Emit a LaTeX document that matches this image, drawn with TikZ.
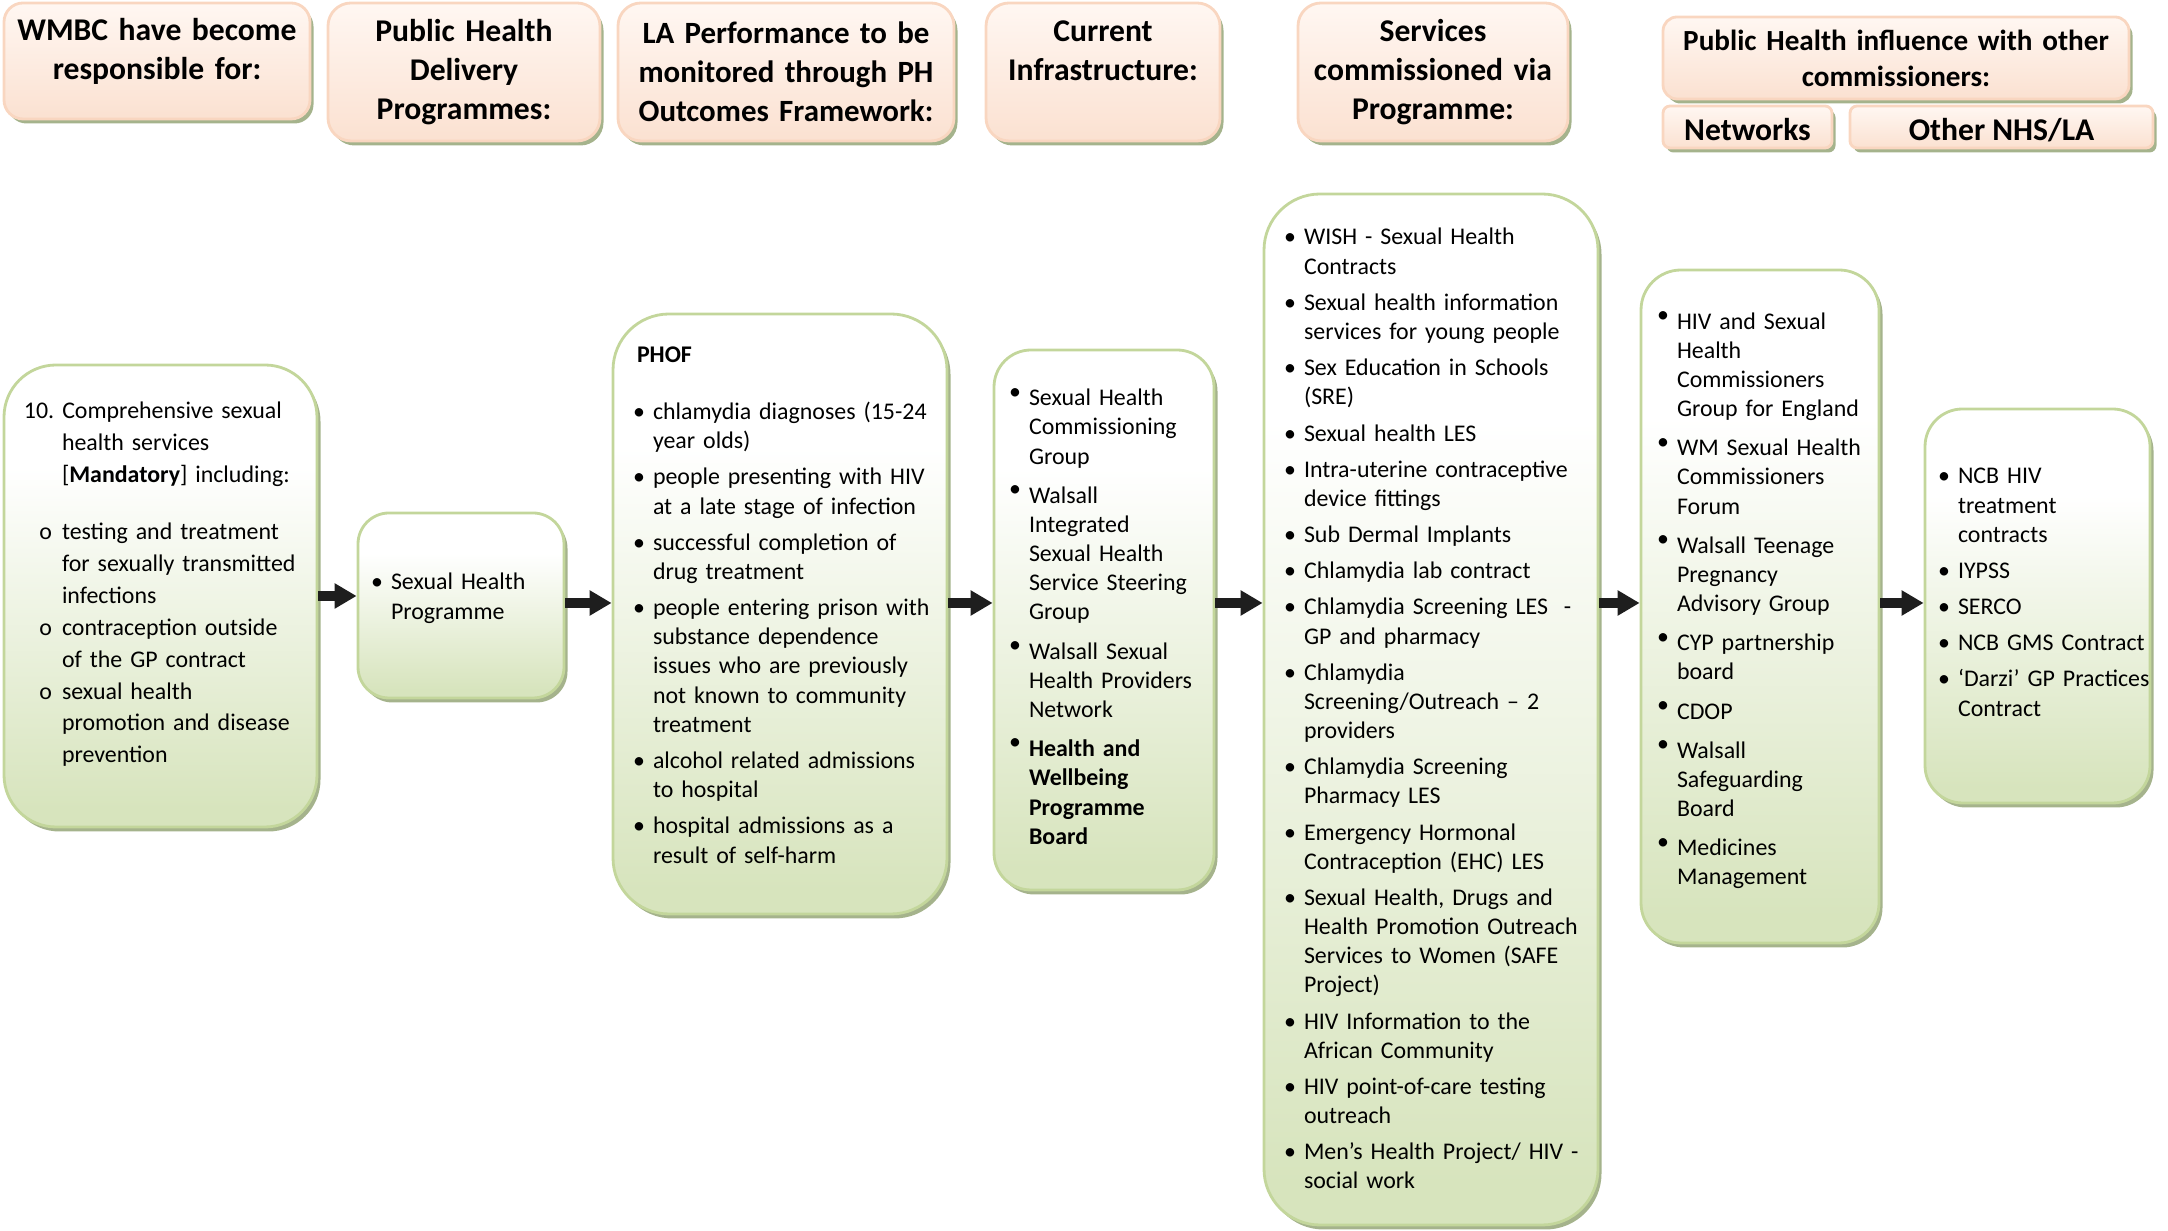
\documentclass[tikz,border=0pt]{standalone}
\usepackage{fontspec}
\setmainfont{Carlito}
\usepackage{enumitem}
\usetikzlibrary{arrows.meta}
\usetikzlibrary{shadows}

\definecolor{stageline}{HTML}{C3D69B}
\definecolor{stagefill}{HTML}{D7E4BD}
\definecolor{headline}{HTML}{F9D6C0}
\definecolor{headtop}{HTML}{FFF7F2}
\definecolor{headbot}{HTML}{FBE1D1}
\definecolor{shade}{HTML}{A5B38C}
\definecolor{arrowc}{HTML}{1E1E1E}

\pgfdeclareverticalshading{stagefade}{100bp}{color(0bp)=(stagefill); color(27bp)=(stagefill); color(64bp)=(white); color(100bp)=(white)}

\setlist[itemize]{label=\textbullet, leftmargin=0.16cm, labelsep=0.08cm, rightmargin=-0.3cm, topsep=0pt, partopsep=0pt, parsep=0pt, itemsep=0.07cm}

\newcommand{\padbelow}[1]{\par\vspace{#1}\hrule height 0pt}
\newcommand{\upbullet}{\raisebox{0.28em}{\textbullet}}

\begin{document}
\begin{tikzpicture}[
    stage/.style={
        rectangle,
        draw=stageline,
        line width=0.8pt,
        shade,
        shading=stagefade,
        drop shadow={shadow xshift=0.035cm, shadow yshift=-0.045cm, fill=shade, opacity=1},
        font=\fontsize{6.8}{8.3}\selectfont,
        align=left,
        inner sep=0pt,
        },
    heading/.style={
        rectangle,
        draw=headline,
        line width=0.8pt,
        top color=headtop,
        bottom color=headbot,
        drop shadow={shadow xshift=0.035cm, shadow yshift=-0.045cm, fill=shade, opacity=1},
        font=\fontsize{9}{11.1}\selectfont\bfseries,
        align=center,
        inner sep=0pt,
        },
    flow/.style={
        draw=arrowc,
        line width=2.6pt,
        -{Triangle[length=0.22cm, width=0.24cm]},
        },
    ]

    \useasboundingbox (0,0) rectangle (21.68,-12.31);

    % column headings
    \node [heading, minimum width=3.06cm, minimum height=1.16cm, rounded corners=0.19cm, text width=2.96cm] (wmbc) at (1.57,-0.61) {WMBC have become\\responsible for:\padbelow{0.19cm}};
    \node [heading, minimum width=2.72cm, minimum height=1.38cm, rounded corners=0.23cm, text width=2.62cm] (phprog) at (4.64,-0.72) {Public Health\\Delivery\\Programmes:};
    \node [heading, minimum width=3.36cm, minimum height=1.38cm, rounded corners=0.23cm, text width=3.26cm, font=\fontsize{8.8}{11.1}\selectfont\bfseries] (laperf) at (7.86,-0.72) {LA Performance to be\\monitored through PH\\Outcomes Framework:};
    \node [heading, minimum width=2.34cm, minimum height=1.38cm, rounded corners=0.23cm, text width=2.24cm] (infra) at (11.03,-0.72) {Current\\Infrastructure:\padbelow{0.42cm}};
    \node [heading, minimum width=2.70cm, minimum height=1.38cm, rounded corners=0.23cm, text width=2.60cm] (services) at (14.33,-0.72) {Services\\commissioned via\\Programme:};
    \node [heading, minimum width=4.66cm, minimum height=0.82cm, rounded corners=0.14cm, text width=4.56cm, font=\fontsize{8.3}{10.2}\selectfont\bfseries] (influence) at (18.96,-0.58) {Public Health influence with other\\commissioners:};
    \node [heading, minimum width=1.69cm, minimum height=0.42cm, rounded corners=0.07cm, text height=0.28cm, text depth=0pt] (networks) at (17.475,-1.27) {Networks};
    \node [heading, minimum width=3.03cm, minimum height=0.42cm, rounded corners=0.07cm, text height=0.28cm, text depth=0pt] (othernhs) at (20.015,-1.27) {Other NHS/LA};

    % flow boxes
    \node [stage, minimum width=3.13cm, minimum height=4.62cm, rounded corners=0.52cm, text width=2.73cm, font=\fontsize{6.8}{9.1}\selectfont] (duty) at (1.605,-5.96) {
        \begin{itemize}[label=10., leftmargin=0.38cm, labelwidth=0.30cm, labelsep=0.08cm, align=left, itemsep=0pt]
        \item Comprehensive sexual\newline health services\newline [\textbf{Mandatory}] including:
            \begin{itemize}[label=o, leftmargin=0pt, labelsep=0.1cm, topsep=0.25cm, itemsep=0pt]
            \item testing and treatment\newline for sexually transmitted\newline infections
            \item contraception outside\newline of the GP contract
            \item sexual health\newline promotion and disease\newline prevention
            \end{itemize}
        \end{itemize}\padbelow{0.14cm}};

    \node [stage, minimum width=2.06cm, minimum height=1.85cm, rounded corners=0.31cm, text width=1.72cm] (prog) at (4.61,-6.055) {
        \begin{itemize}
        \item Sexual Health\newline Programme
        \end{itemize}\padbelow{0.27cm}};

    \node [stage, minimum width=3.34cm, minimum height=6.00cm, rounded corners=0.56cm, text width=2.86cm] (phof) at (7.80,-6.14) {
        \textbf{PHOF}\par\vspace{0.28cm}
        \begin{itemize}
        \item chlamydia diagnoses (15-24\newline year olds)
        \item people presenting with HIV\newline at a late stage of infection
        \item successful completion of\newline drug treatment
        \item people entering prison with\newline substance dependence\newline issues who are previously\newline not known to community\newline treatment
        \item alcohol related admissions\newline to hospital
        \item hospital admissions as a\newline result of self-harm
        \end{itemize}\padbelow{0.18cm}};

    \node [stage, minimum width=2.20cm, minimum height=5.40cm, rounded corners=0.37cm, text width=1.82cm] (groups) at (11.04,-6.20) {
        \begin{itemize}[label=\upbullet, itemsep=0.1cm]
        \item Sexual Health\newline Commissioning\newline Group
        \item Walsall\newline Integrated\newline Sexual Health\newline Service Steering\newline Group
        \item Walsall Sexual\newline Health Providers\newline Network
        \item \textbf{Health and\newline Wellbeing\newline Programme\newline Board}
        \end{itemize}\padbelow{0.19cm}};

    \node [stage, minimum width=3.34cm, minimum height=10.31cm, rounded corners=0.56cm, text width=2.86cm] (contracts) at (14.31,-7.095) {
        \begin{itemize}[itemsep=0.07cm]
        \item WISH - Sexual Health\newline Contracts
        \item Sexual health information\newline services for young people
        \item Sex Education in Schools\newline (SRE)
        \item Sexual health LES
        \item Intra-uterine contraceptive\newline device fittings
        \item Sub Dermal Implants
        \item Chlamydia lab contract
        \item Chlamydia Screening LES~ -\newline GP and pharmacy
        \item Chlamydia\newline Screening/Outreach – 2\newline providers
        \item Chlamydia Screening\newline Pharmacy LES
        \item Emergency Hormonal\newline Contraception (EHC) LES
        \item Sexual Health, Drugs and\newline Health Promotion Outreach\newline Services to Women (SAFE\newline Project)
        \item HIV Information to the\newline African Community
        \item HIV point-of-care testing\newline outreach
        \item Men’s Health Project/ HIV -\newline social work
        \end{itemize}\padbelow{0.14cm}};

    \node [stage, minimum width=2.38cm, minimum height=6.73cm, rounded corners=0.40cm, text width=1.98cm] (forums) at (17.60,-6.065) {
        \begin{itemize}[label=\upbullet, itemsep=0.1cm]
        \item HIV and Sexual\newline Health\newline Commissioners\newline Group for England
        \item WM Sexual Health\newline Commissioners\newline Forum
        \item Walsall Teenage\newline Pregnancy\newline Advisory Group
        \item CYP partnership\newline board
        \item CDOP
        \item Walsall\newline Safeguarding\newline Board
        \item Medicines\newline Management
        \end{itemize}\padbelow{0.24cm}};

    \node [stage, minimum width=2.25cm, minimum height=3.94cm, rounded corners=0.375cm, text width=1.91cm] (nhsla) at (20.375,-6.06) {
        \begin{itemize}
        \item NCB HIV\newline treatment\newline contracts
        \item IYPSS
        \item SERCO
        \item NCB GMS Contract
        \item ‘Darzi’ GP Practices\newline Contract
        \end{itemize}\padbelow{0.41cm}};

    \coordinate (row) at (0,-6.03);

    \draw [flow] (duty.east) -- (duty.east -| prog.west);
    \draw [flow] (prog.east |- row) -- (phof.west |- row);
    \draw [flow] (phof.east |- row) -- (groups.west |- row);
    \draw [flow] (groups.east |- row) -- (contracts.west |- row);
    \draw [flow] (contracts.east |- row) -- (forums.west |- row);
    \draw [flow] (forums.east |- row) -- (nhsla.west |- row);

\end{tikzpicture}
\end{document}
